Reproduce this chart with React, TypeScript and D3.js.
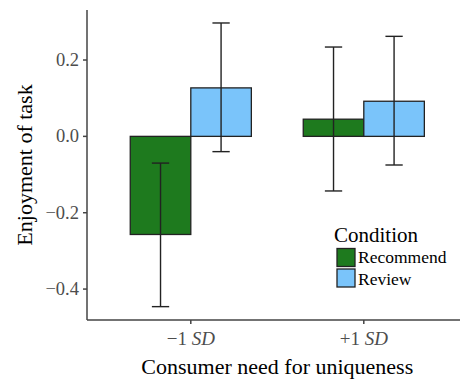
import React, { useRef, useEffect } from 'react';
import * as d3 from 'd3';

const groups = ['-1', '+1'];
const conditions = ['Recommend', 'Review'];
const means = [
  [-0.257, 0.127],
  [0.045, 0.092],
];
const lower = [
  [-0.446, -0.040],
  [-0.143, -0.075],
];
const upper = [
  [-0.070, 0.297],
  [0.234, 0.262],
];
const yTicks = [-0.4, -0.2, 0.0, 0.2];
const colors = ['#1e7a1e', '#7ac4fa'];

const App = () => {
  const chartRef = useRef<SVGSVGElement>(null);

  useEffect(() => {
    const width = 460;
    const height = 381;
    const left = 87;
    const top = 10;
    const bottom = 320;
    const font = "'Liberation Serif', 'Times New Roman', serif";

    // ggplot style discrete axis: groups at 1 and 2, expanded 0.6 either side
    const x = d3.scaleLinear().domain([0.4, 2.6]).range([left, left + 2.2 * 173]);
    const y = d3.scaleLinear().domain([-0.481, 0.331]).range([bottom, top]);
    const barW = 0.35;

    const svg = d3.select(chartRef.current)
      .attr('width', width)
      .attr('height', height)
      .style('position', 'absolute')
      .style('left', 0)
      .style('top', 0)
      .style('background', '#fff');
    svg.selectAll('*').remove();

    const rows = groups.flatMap((g, gi) => conditions.map((c, ci) => ({
      gi, ci, mean: means[gi][ci], lo: lower[gi][ci], hi: upper[gi][ci],
    })));

    svg.append('g')
      .selectAll('rect')
      .data(rows)
      .join('rect')
      .attr('x', d => x(gi2pos(d.gi) - barW + d.ci * barW))
      .attr('width', x(barW) - x(0))
      .attr('y', d => y(Math.max(0, d.mean)))
      .attr('height', d => Math.abs(y(d.mean) - y(0)))
      .attr('fill', d => colors[d.ci])
      .attr('stroke', '#222')
      .attr('stroke-width', 1.3);

    const err = svg.append('g')
      .attr('stroke', '#222')
      .attr('stroke-width', 1.4)
      .attr('fill', 'none');
    rows.forEach(d => {
      const cx = x(gi2pos(d.gi) - barW / 2 + d.ci * barW);
      const cap = (x(0.05) - x(0));
      err.append('line').attr('x1', cx).attr('x2', cx).attr('y1', y(d.lo)).attr('y2', y(d.hi));
      err.append('line').attr('x1', cx - cap).attr('x2', cx + cap).attr('y1', y(d.lo)).attr('y2', y(d.lo));
      err.append('line').attr('x1', cx - cap).attr('x2', cx + cap).attr('y1', y(d.hi)).attr('y2', y(d.hi));
    });

    // axes
    const axis = svg.append('g').attr('stroke', '#444').attr('stroke-width', 1.5);
    axis.append('line').attr('x1', left).attr('x2', left).attr('y1', top).attr('y2', bottom);
    axis.append('line').attr('x1', left).attr('x2', width).attr('y1', bottom).attr('y2', bottom);
    yTicks.forEach(t => {
      axis.append('line').attr('x1', left - 4).attr('x2', left).attr('y1', y(t)).attr('y2', y(t));
    });
    groups.forEach((g, gi) => {
      axis.append('line').attr('x1', x(gi2pos(gi))).attr('x2', x(gi2pos(gi))).attr('y1', bottom).attr('y2', bottom + 4);
    });

    svg.append('g')
      .attr('font-family', font)
      .attr('font-size', 18.5)
      .attr('fill', '#4d4d4d')
      .attr('text-anchor', 'end')
      .selectAll('text')
      .data(yTicks)
      .join('text')
      .attr('x', left - 8)
      .attr('y', d => y(d) + 6)
      .text(d => d3.format('.1f')(d).replace('-', '\u2212'));

    const xl = svg.append('g')
      .attr('font-family', font)
      .attr('font-size', 19)
      .attr('fill', '#4d4d4d')
      .attr('text-anchor', 'middle');
    groups.forEach((g, gi) => {
      const t = xl.append('text').attr('x', x(gi2pos(gi))).attr('y', 345);
      t.append('tspan').text(g.replace('-', '\u2212') + ' ');
      t.append('tspan').attr('font-style', 'italic').text('SD');
    });

    svg.append('text')
      .attr('font-family', font)
      .attr('font-size', 22)
      .attr('text-anchor', 'middle')
      .attr('x', x(1.5))
      .attr('y', 374)
      .text('Consumer need for uniqueness');

    svg.append('text')
      .attr('font-family', font)
      .attr('font-size', 22)
      .attr('text-anchor', 'middle')
      .attr('transform', `translate(32,${(top + bottom) / 2}) rotate(-90)`)
      .text('Enjoyment of task');

    // legend
    const lg = svg.append('g').attr('font-family', font);
    lg.append('text').attr('x', 334).attr('y', 242).attr('font-size', 21).text('Condition');
    conditions.forEach((c, i) => {
      lg.append('rect')
        .attr('x', 337).attr('y', 248.5 + i * 20.5)
        .attr('width', 18).attr('height', 18)
        .attr('fill', colors[i]).attr('stroke', '#222').attr('stroke-width', 1.3);
      lg.append('text').attr('x', 358).attr('y', 263 + i * 21.5).attr('font-size', 17.5).text(c);
    });

    function gi2pos(gi: number) { return gi + 1; }
  }, []);

  return <svg ref={chartRef} />;
};

export default App;
